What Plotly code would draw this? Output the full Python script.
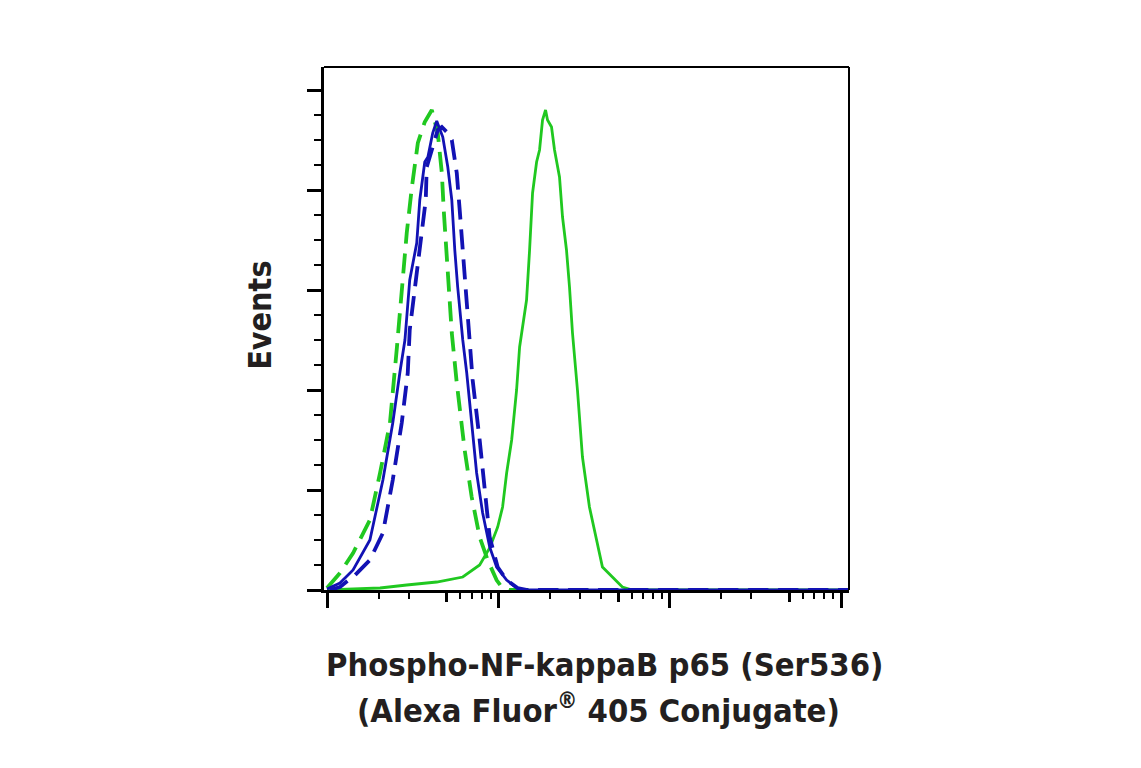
import plotly.graph_objects as go

# ---- data (fluorescence intensity vs events) ----
gd_x = [100, 119, 142, 178, 204, 233, 256, 273, 292, 313, 339, 372, 409, 443, 468, 480, 500, 535, 572, 636, 699, 778, 866, 977, 1045, 1163, 10000, 111000]
gd_y = [2, 17, 37, 70, 117, 167, 243, 303, 357, 403, 447, 468, 480, 457, 417, 380, 330, 257, 207, 140, 93, 53, 30, 10, 3, 0, 0, 0]

gs_x = [100, 204, 292, 437, 620, 778, 890, 991, 1059, 1118, 1196, 1278, 1331, 1385, 1461, 1522, 1584, 1672, 1740, 1811, 1886, 1937, 2044, 2128, 2275, 2369, 2499, 2602, 2709, 2896, 3097, 3402, 3736, 4051, 4631, 5296, 6056, 20000, 111000]
gs_y = [0, 2, 5, 8, 13, 25, 42, 63, 83, 117, 150, 200, 243, 263, 290, 340, 397, 428, 440, 470, 480, 470, 463, 440, 413, 373, 340, 303, 257, 200, 133, 83, 50, 23, 13, 3, 0, 0, 0]

bs_x = [100, 119, 142, 178, 212, 242, 266, 285, 304, 334, 348, 372, 388, 414, 437, 474, 507, 535, 557, 579, 620, 654, 699, 747, 810, 890, 977, 1118, 1278, 1423, 10000, 111000]
bs_y = [1, 7, 20, 50, 110, 167, 217, 250, 310, 347, 390, 428, 433, 457, 469, 453, 423, 390, 340, 303, 250, 217, 167, 117, 77, 43, 23, 10, 2, 0, 0, 0]

bd_x = [104, 119, 146, 178, 212, 242, 273, 296, 304, 348, 377, 382, 414, 443, 468, 500, 535, 572, 595, 620, 645, 671, 708, 778, 832, 890, 991, 1118, 1295, 1481, 10000, 111000]
bd_y = [0, 3, 15, 30, 57, 110, 167, 217, 260, 340, 390, 423, 445, 460, 463, 458, 450, 417, 380, 340, 297, 257, 210, 150, 100, 53, 23, 10, 2, 0, 0, 0]

x_major = [100, 1000, 10000, 100000]
x_mid = [500, 5000, 50000]
x_minor = [200, 300, 600, 700, 800, 900,
           2000, 3000, 4000, 6000, 7000, 8000, 9000,
           20000, 30000, 60000, 70000, 80000, 90000]
y_major = [0, 100, 200, 300, 400, 500]
y_minor = [25, 50, 75, 125, 150, 175, 225, 250, 275, 325, 350, 375, 425, 450, 475]

title_line1 = "Phospho-NF-kappaB p65 (Ser536)"
title_line2 = "(Alexa Fluor<sup>®</sup> 405 Conjugate)"
y_title = "Events"

GREEN = "#20c820"
BLUE = "#1212b4"
FONT = "DejaVu Sans Condensed, Liberation Sans Narrow, Arial Narrow, sans-serif"

fig = go.Figure()
fig.add_trace(go.Scatter(x=gd_x, y=gd_y, mode="lines",
                         line=dict(color=GREEN, width=3.8, dash="20px,10px"), showlegend=False))
fig.add_trace(go.Scatter(x=gs_x, y=gs_y, mode="lines",
                         line=dict(color=GREEN, width=2.8), showlegend=False))
fig.add_trace(go.Scatter(x=bs_x, y=bs_y, mode="lines",
                         line=dict(color=BLUE, width=2.8), showlegend=False))
fig.add_trace(go.Scatter(x=bd_x, y=bd_y, mode="lines",
                         line=dict(color=BLUE, width=3.8, dash="20px,10px"), showlegend=False))
# invisible trace on secondary x axis (mid-length ticks)
fig.add_trace(go.Scatter(x=[1000], y=[0], xaxis="x2", mode="markers",
                         marker=dict(opacity=0), showlegend=False, hoverinfo="skip"))

xr = [1.9825, 5.0466]
fig.update_layout(
    width=1141, height=768,
    margin=dict(l=316, r=300, t=59, b=186),
    paper_bgcolor="white", plot_bgcolor="white",
    xaxis=dict(type="log", range=xr, tickmode="array", tickvals=x_major,
               ticks="outside", ticklen=15, tickwidth=3, tickcolor="black",
               showticklabels=False, showgrid=False, zeroline=False,
               showline=True, linewidth=3, linecolor="black",
               minor=dict(tickmode="array", tickvals=x_minor, ticks="outside",
                          ticklen=6, tickwidth=2, tickcolor="black", showgrid=False)),
    xaxis2=dict(type="log", range=xr, overlaying="x", side="bottom", anchor="y",
                tickmode="array", tickvals=x_mid, ticks="outside", ticklen=11,
                tickwidth=2.5, tickcolor="black", showticklabels=False,
                showgrid=False, zeroline=False, showline=False),
    yaxis=dict(range=[0, 523], tickmode="array", tickvals=y_major,
               ticks="outside", ticklen=14, tickwidth=3, tickcolor="black",
               showticklabels=False, showgrid=False, zeroline=False,
               showline=True, linewidth=3, linecolor="black",
               minor=dict(tickmode="array", tickvals=y_minor, ticks="outside",
                          ticklen=7, tickwidth=2, tickcolor="black", showgrid=False)),
    shapes=[
        dict(type="line", xref="paper", yref="paper", x0=0, x1=1, y0=1, y1=1,
             line=dict(color="black", width=2)),
        dict(type="line", xref="paper", yref="paper", x0=1, x1=1, y0=0, y1=1,
             line=dict(color="black", width=2)),
    ],
    annotations=[
        dict(text="<b>" + title_line1 + "</b>", xref="paper", yref="paper",
             x=0.535, y=-0.143, xanchor="center", yanchor="middle", showarrow=False,
             font=dict(family=FONT, size=32.5, color="#231f20")),
        dict(text="<b>" + title_line2 + "</b>", xref="paper", yref="paper",
             x=0.522, y=-0.226, xanchor="center", yanchor="middle", showarrow=False,
             font=dict(family=FONT, size=32.5, color="#231f20")),
        dict(text="<b>" + y_title + "</b>", xref="paper", yref="paper",
             x=-0.122, y=0.526, xanchor="center", yanchor="middle", showarrow=False,
             textangle=-90, font=dict(family=FONT, size=32, color="#231f20")),
    ],
)

fig.write_html("out.html")
